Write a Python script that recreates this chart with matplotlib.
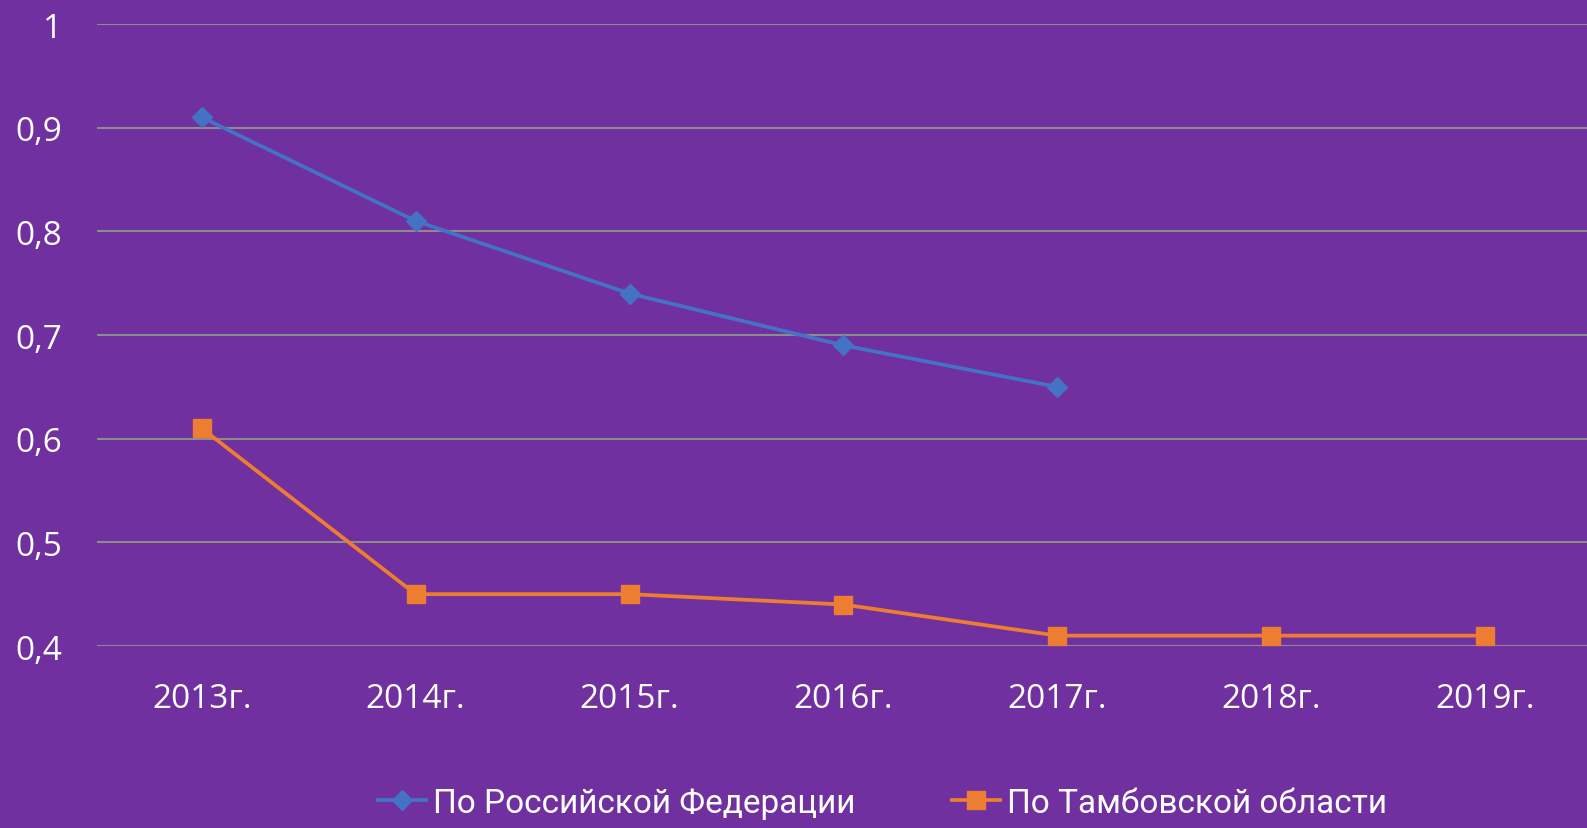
import matplotlib.pyplot as plt
from matplotlib import font_manager

years = ['2013г.', '2014г.', '2015г.', '2016г.', '2017г.', '2018г.', '2019г.']
rf_values = [0.91, 0.81, 0.74, 0.69, 0.65]
tambov_values = [0.61, 0.45, 0.45, 0.44, 0.41, 0.41, 0.41]
yticks = [0.4, 0.5, 0.6, 0.7, 0.8, 0.9, 1.0]
ytick_labels = ['0,4', '0,5', '0,6', '0,7', '0,8', '0,9', '1']

names = {f.name for f in font_manager.fontManager.ttflist}
main_font = 'Open Sans' if 'Open Sans' in names else 'DejaVu Sans'
leg_font = 'Roboto' if 'Roboto' in names else main_font

bg = '#7030A0'
fig = plt.figure(figsize=(15.87, 8.29), dpi=100, facecolor=bg)
ax = fig.add_axes([97 / 1587, 1 - 647 / 829, 1 - 97 / 1587, (647 - 25) / 829])
ax.set_facecolor(bg)

x = list(range(len(years)))
ax.plot(x[:len(rf_values)], rf_values, color='#4472C4', lw=2.7, marker='D',
        ms=10, label='По Российской Федерации', clip_on=False, zorder=3)
ax.plot(x, tambov_values, color='#ED7D31', lw=2.7, marker='s',
        ms=13, label='По Тамбовской области', clip_on=False, zorder=3)

ax.set_xlim(-0.49, 6.477)
ax.set_ylim(0.4, 1.0)
ax.set_yticks(yticks)
ax.set_yticklabels(ytick_labels, fontsize=24, color='white', family=main_font)
ax.set_xticks(x)
ax.set_xticklabels(years, fontsize=24, color='white', family=main_font)
ax.tick_params(length=0, pad=25, axis='y')
ax.tick_params(length=0, pad=26, axis='x')
ax.grid(axis='y', color='#8c8c8c', lw=1.5)
ax.set_axisbelow(True)
for s in ax.spines.values():
    s.set_visible(False)

leg = fig.legend(loc='center', bbox_to_anchor=(0.556, 0.03), ncol=2,
                 frameon=False, columnspacing=2.9, handlelength=1.45,
                 handletextpad=0.2, prop={'family': leg_font, 'size': 24})
for t in leg.get_texts():
    t.set_color('white')

fig.savefig('out.png', dpi=100, facecolor=bg)
